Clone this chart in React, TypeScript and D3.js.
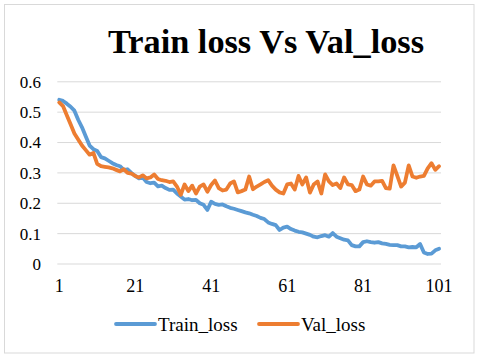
import React from "react";
import * as d3 from "d3";

const trainLoss = [
  0.541, 0.537, 0.528, 0.518, 0.505, 0.475, 0.45, 0.42, 0.39, 0.378,
  0.372, 0.352, 0.348, 0.34, 0.332, 0.326, 0.322, 0.31, 0.312, 0.3,
  0.29, 0.282, 0.285, 0.27, 0.266, 0.268, 0.256, 0.258, 0.25, 0.244,
  0.245, 0.232, 0.222, 0.212, 0.214, 0.21, 0.211, 0.2, 0.195, 0.178,
  0.205, 0.198, 0.195, 0.196, 0.19, 0.185, 0.182, 0.178, 0.174, 0.17,
  0.167, 0.162, 0.158, 0.152, 0.148, 0.137, 0.132, 0.128, 0.112, 0.12,
  0.123, 0.115, 0.11, 0.106, 0.104, 0.1, 0.096, 0.09, 0.088, 0.092,
  0.095, 0.09, 0.102, 0.09, 0.085, 0.08, 0.078, 0.062, 0.058, 0.058,
  0.072, 0.075, 0.072, 0.07, 0.072, 0.068, 0.066, 0.063, 0.062, 0.062,
  0.058, 0.058, 0.055, 0.056, 0.055, 0.066, 0.038, 0.033, 0.034, 0.045,
  0.05,
];

const valLoss = [
  0.532, 0.52, 0.49, 0.46, 0.43, 0.41, 0.39, 0.375, 0.36, 0.366,
  0.33, 0.322, 0.32, 0.318, 0.315, 0.31, 0.305, 0.312, 0.3, 0.298,
  0.29, 0.285, 0.292, 0.282, 0.285, 0.295, 0.28, 0.276, 0.274, 0.27,
  0.272, 0.255, 0.228, 0.262, 0.24, 0.258, 0.232, 0.255, 0.262, 0.238,
  0.26, 0.275, 0.25, 0.242, 0.245, 0.265, 0.272, 0.236, 0.24, 0.245,
  0.288, 0.246, 0.255, 0.262, 0.27, 0.276, 0.258, 0.245, 0.236, 0.232,
  0.262, 0.265, 0.245, 0.29, 0.262, 0.285, 0.235, 0.262, 0.272, 0.232,
  0.295, 0.272, 0.26, 0.265, 0.25, 0.285, 0.262, 0.26, 0.24, 0.245,
  0.288, 0.262, 0.258, 0.272, 0.272, 0.274, 0.25, 0.248, 0.325, 0.29,
  0.255, 0.268, 0.325, 0.288, 0.284, 0.288, 0.29, 0.315, 0.332, 0.31,
  0.322,
];

const epochs = trainLoss.map((_, i) => i + 1);
const xTickLabels = [1, 21, 41, 61, 81, 101];
const yTicks = [0, 0.1, 0.2, 0.3, 0.4, 0.5, 0.6];

const series = [
  { name: "Train_loss", values: trainLoss, color: "#5B9BD5" },
  { name: "Val_loss", values: valLoss, color: "#ED7D31" },
];

const W = 480;
const H = 357;
const font = "'Liberation Serif', 'Times New Roman', serif";
const txt = { fontFamily: font };

export default function App() {
  const x = d3.scalePoint<number>().domain(epochs).range([57.3, 441]).padding(0.5);
  const y = d3.scaleLinear().domain([0, 0.6]).range([264, 81.8]);

  const line = d3
    .line<number>()
    .x((_, i) => x(epochs[i]) as number)
    .y((d) => y(d));

  const legendItems = [
    { x1: 116, x2: 155, tx: 158 },
    { x1: 259, x2: 298, tx: 301 },
  ];

  return (
    <svg
      width={W}
      height={H}
      style={{ position: "absolute", left: 0, top: 0, background: "#fff" }}
    >
      <rect x={4.5} y={4.5} width={469.5} height={348.5} fill="#fff" stroke="#d9d9d9" />
      <text
        x={266}
        y={53}
        textAnchor="middle"
        fontSize={34}
        fontWeight="bold"
        textLength={316}
        lengthAdjust="spacingAndGlyphs"
        style={txt}
      >
        Train loss Vs Val_loss
      </text>

      {yTicks.map((t) => (
        <g key={t}>
          <line x1={57.3} x2={441} y1={y(t)} y2={y(t)} stroke="#d9d9d9" strokeWidth={1} />
          <text x={41} y={y(t)} dy="0.35em" textAnchor="end" fontSize={17} fill="#000" style={txt}>
            {d3.format(t === 0 ? "d" : ".1f")(t)}
          </text>
        </g>
      ))}

      {xTickLabels.map((t) => (
        <text key={t} x={x(t)} y={292} textAnchor="middle" fontSize={18} fill="#000" style={txt}>
          {t}
        </text>
      ))}

      {series.map((s) => (
        <path
          key={s.name}
          d={line(s.values) || ""}
          fill="none"
          stroke={s.color}
          strokeWidth={3.8}
          strokeLinejoin="round"
          strokeLinecap="round"
        />
      ))}

      {series.map((s, i) => (
        <g key={s.name}>
          <line
            x1={legendItems[i].x1}
            x2={legendItems[i].x2}
            y1={324}
            y2={324}
            stroke={s.color}
            strokeWidth={3.8}
            strokeLinecap="round"
          />
          <text x={legendItems[i].tx} y={331} fontSize={19} fill="#000" style={txt}>
            {s.name}
          </text>
        </g>
      ))}
    </svg>
  );
}
